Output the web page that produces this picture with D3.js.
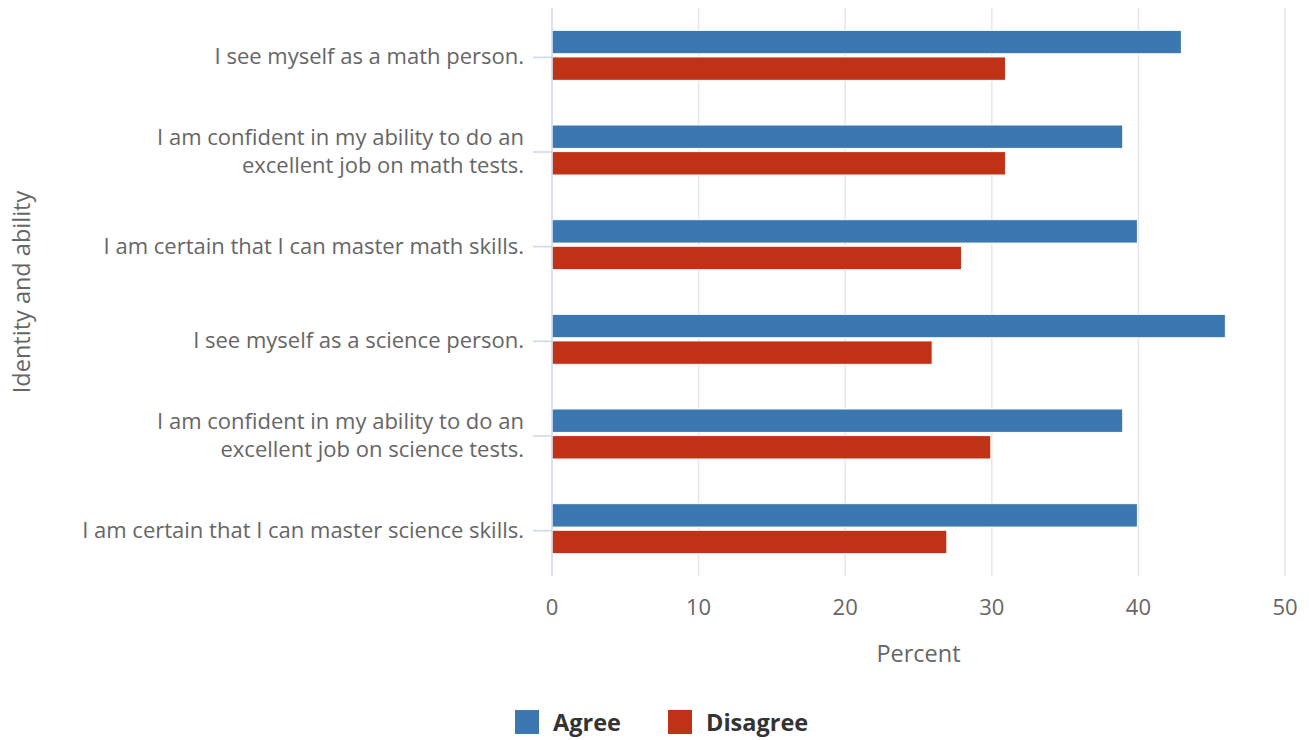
<!DOCTYPE html>
<html>
<head>
<meta charset="utf-8">
<script src="https://cdn.jsdelivr.net/npm/d3@7"></script>
<style>
  body { margin: 0; background: #fff; }
  svg { font-family: 'Open Sans', sans-serif; }
</style>
</head>
<body>
<svg id="chart"></svg>
<script>
// Data
const categories = [
  ['I see myself as a math person.'],
  ['I am confident in my ability to do an', 'excellent job on math tests.'],
  ['I am certain that I can master math skills.'],
  ['I see myself as a science person.'],
  ['I am confident in my ability to do an', 'excellent job on science tests.'],
  ['I am certain that I can master science skills.']
]
const agree = [43, 39, 40, 46, 39, 40]
const disagree = [31, 31, 28, 26, 30, 27]
const seriesNames = ['Agree', 'Disagree']
const xTicks = [0, 10, 20, 30, 40, 50]

const width = 1309
const height = 740
const margin = { top: 8, right: 24, bottom: 164, left: 552 }
const colors = ['#3b78b1', '#bf3215']

const svg = d3.select('#chart')
  .attr('width', width)
  .attr('height', height)

const x = d3.scaleLinear()
  .domain([0, 50])
  .range([margin.left, 1285])

const y = d3.scaleBand()
  .domain(d3.range(categories.length))
  .range([margin.top, height - margin.bottom])

const inner = d3.scaleBand()
  .domain([0, 1])
  .range([y.bandwidth() / 2 - 25, y.bandwidth() / 2 + 25])
  .paddingInner(0.12)

const plotBottom = height - margin.bottom

// Gridlines
svg.append('g')
  .selectAll('line')
  .data(xTicks.slice(1))
  .enter().append('line')
  .attr('x1', d => x(d))
  .attr('x2', d => x(d))
  .attr('y1', margin.top)
  .attr('y2', plotBottom)
  .attr('stroke', '#e6e6e6')
  .attr('stroke-width', 1.5)

// Bars
const rows = categories.map((c, i) => ({ i, values: [agree[i], disagree[i]] }))

const group = svg.append('g')
  .selectAll('g')
  .data(rows)
  .enter().append('g')
  .attr('transform', d => `translate(0,${y(d.i)})`)

group.selectAll('rect')
  .data(d => d.values.map((v, s) => ({ v, s })))
  .enter().append('rect')
  .attr('x', x(0))
  .attr('y', d => inner(d.s))
  .attr('width', d => x(d.v) - x(0) - 1)
  .attr('height', inner.bandwidth())
  .attr('fill', d => colors[d.s])
  .attr('stroke', '#fff')
  .attr('stroke-width', 1)

// Category axis
svg.append('line')
  .attr('x1', x(0)).attr('x2', x(0))
  .attr('y1', margin.top).attr('y2', plotBottom)
  .attr('stroke', '#ccd6eb')
  .attr('stroke-width', 1.5)

svg.append('g')
  .selectAll('line')
  .data(d3.range(categories.length))
  .enter().append('line')
  .attr('x1', x(0) - 19)
  .attr('x2', x(0))
  .attr('y1', d => y(d) + y.bandwidth() / 2 + 2)
  .attr('y2', d => y(d) + y.bandwidth() / 2 + 2)
  .attr('stroke', '#ccd6eb')
  .attr('stroke-width', 1.5)

const catLabel = svg.append('g')
  .selectAll('text')
  .data(categories)
  .enter().append('text')
  .attr('text-anchor', 'end')
  .attr('font-size', '22px')
  .attr('fill', '#666')
  .attr('y', (d, i) => y(i) + y.bandwidth() / 2 + 1)

catLabel.selectAll('tspan')
  .data(d => d.map((t, j) => ({ t, j, n: d.length })))
  .enter().append('tspan')
  .attr('x', 524)
  .attr('dy', d => d.j === 0 ? ((-(d.n - 1) * 28) / 2 + 8) + 'px' : '28px')
  .text(d => d.t)

// Value axis labels
svg.append('g')
  .selectAll('text')
  .data(xTicks)
  .enter().append('text')
  .attr('x', d => x(d))
  .attr('y', 615)
  .attr('text-anchor', 'middle')
  .attr('font-size', '22px')
  .attr('fill', '#666')
  .text(d => d)

// Axis titles
svg.append('text')
  .attr('x', (x(0) + x(50)) / 2)
  .attr('y', 662)
  .attr('text-anchor', 'middle')
  .attr('font-size', '23.5px')
  .attr('fill', '#666')
  .text('Percent')

svg.append('text')
  .attr('transform', `translate(30,${(margin.top + plotBottom) / 2}) rotate(-90)`)
  .attr('text-anchor', 'middle')
  .attr('font-size', '23.5px')
  .attr('fill', '#666')
  .text('Identity and ability')

// Legend
const legendX = [515, 668]
const legend = svg.append('g')
  .selectAll('g')
  .data(seriesNames)
  .enter().append('g')
  .attr('transform', (d, i) => `translate(${legendX[i]},710)`)

legend.append('rect')
  .attr('width', 24)
  .attr('height', 24)
  .attr('fill', (d, i) => colors[i])

legend.append('text')
  .attr('x', 38)
  .attr('y', 21)
  .attr('font-size', '23.5px')
  .attr('font-weight', 'bold')
  .attr('fill', '#333')
  .text(d => d)
</script>
</body>
</html>
